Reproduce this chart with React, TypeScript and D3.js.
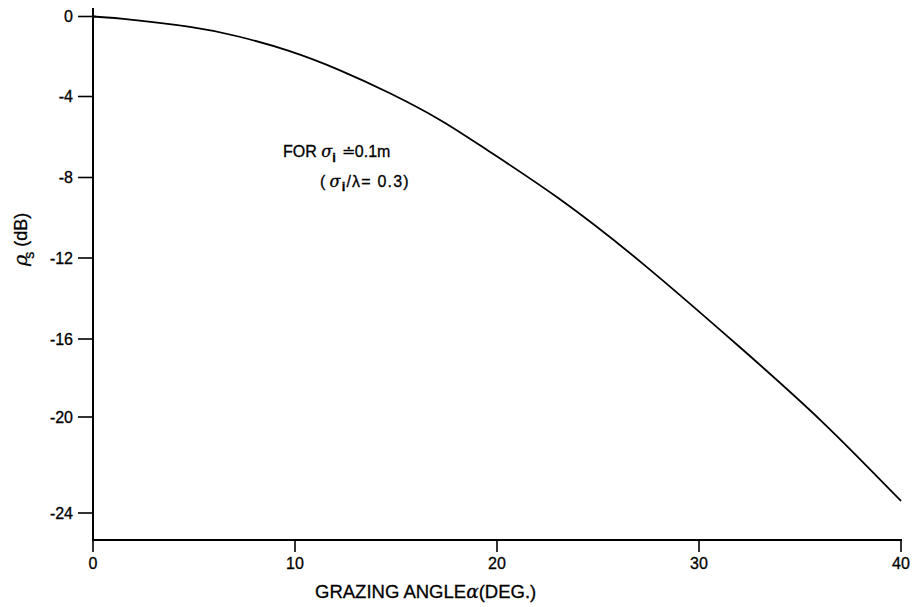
import React from 'react'
import * as d3 from 'd3'

// grazing angle (deg) vs specular scattering coefficient (dB)
const angles = [0, 1.5, 4.8, 7.2, 9.7, 12.2, 14.7, 17.2, 19.6, 23.1, 27.3, 32.0, 36.1, 40]
const rhoS = [0, -0.12, -0.52, -1.0, -1.72, -2.68, -3.84, -5.17, -6.7, -9.07, -12.35, -16.4, -20.2, -23.5]

const xTicks = [0, 10, 20, 30, 40]
const yTicks = [0, -4, -8, -12, -16, -20, -24]

const W = 913
const H = 607
const FONT = '"Liberation Sans", Arial, Helvetica, sans-serif'
const GREEK = '"DejaVu Serif", serif'

// x: plain linear axis
const xScale = d3.scaleLinear().domain([0, 40]).range([93, 901])

// y: the printed axis is not evenly spaced (last step is longer), so use a polylinear scale
const yScale = d3
  .scaleLinear()
  .domain(yTicks)
  .range([16.5, 96.5, 177.5, 258, 339, 417, 513])

const axisY = 540

// scanned print looks a bit heavier than plain regular weight
const ink = { fill: '#000', stroke: '#000', strokeWidth: 0.3 }

export default function App() {
  const points: [number, number][] = angles.map((a, i) => [a, rhoS[i]])

  const line = d3
    .line<[number, number]>()
    .x(d => xScale(d[0]))
    .y(d => yScale(d[1]))
    .curve(d3.curveNatural)

  return (
    <svg
      width={W}
      height={H}
      style={{ position: 'absolute', left: 0, top: 0, background: '#fff' }}
      fontFamily={FONT}
    >
      {/* y axis */}
      <line x1={xScale(0)} x2={xScale(0)} y1={8} y2={axisY} stroke="#000" strokeWidth={2} />
      {yTicks.map(t => (
        <g key={t} transform={`translate(0,${yScale(t)})`}>
          <line x1={78} x2={xScale(0) + (t === 0 ? 3 : 0)} stroke="#000" strokeWidth={1.6} />
          <text x={73} dy="0.35em" textAnchor="end" fontSize={16} {...ink}>
            {t}
          </text>
        </g>
      ))}

      {/* x axis */}
      <line x1={xScale(0) - 1} x2={xScale(40) + 1} y1={axisY} y2={axisY} stroke="#000" strokeWidth={2} />
      {xTicks.map(t => (
        <g key={t} transform={`translate(${xScale(t)},0)`}>
          <line y1={axisY} y2={axisY + 12} stroke="#000" strokeWidth={1.6} />
          <text y={569} textAnchor="middle" fontSize={16} {...ink}>
            {t}
          </text>
        </g>
      ))}

      {/* curve */}
      <path d={line(points) || ''} fill="none" stroke="#000" strokeWidth={1.8} />

      {/* axis titles */}
      <text x={315} y={598} fontSize={18.5} {...ink}>
        GRAZING ANGLE<tspan fontStyle="italic" fontFamily={GREEK}>α</tspan>(DEG.)
      </text>
      <text transform="translate(27,266) rotate(-90)" fontSize={18} {...ink}>
        <tspan fontStyle="italic" fontFamily={GREEK} fontSize={19}>ρ</tspan>
        <tspan dx={-4} dy={7} fontSize={14}>s</tspan>
        <tspan dy={-7}> (dB)</tspan>
      </text>

      {/* annotation */}
      <text x={283} y={157} fontSize={16} {...ink}>
        FOR{' '}
        <tspan fontStyle="italic" fontFamily={GREEK}>σ</tspan>
        <tspan dy={5} fontSize={13} fontWeight="bold">i</tspan>
        <tspan dy={-5} dx={6}>≐0.1m</tspan>
      </text>
      <text x={320} y={187} fontSize={16} letterSpacing={1.2} {...ink}>
        (<tspan dx={3} fontStyle="italic" fontFamily={GREEK}>σ</tspan>
        <tspan dy={4} fontSize={13} fontWeight="bold">i</tspan>
        <tspan dy={-4}>/λ= 0.3)</tspan>
      </text>
    </svg>
  )
}
